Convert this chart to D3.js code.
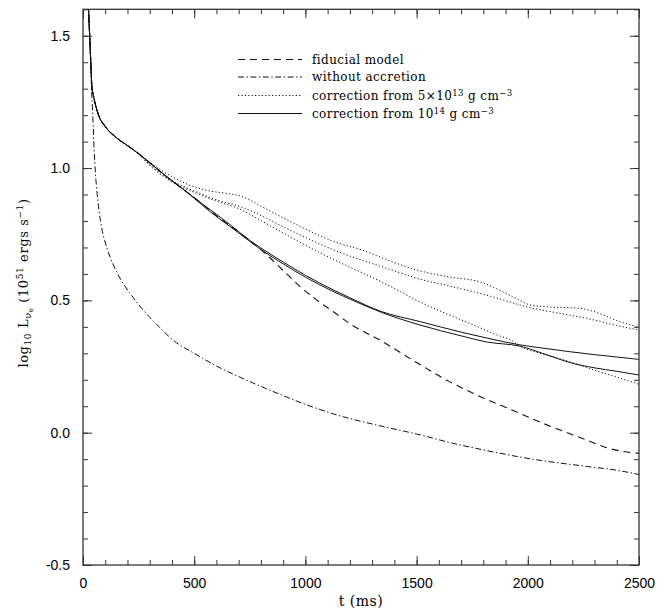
<!DOCTYPE html>
<html>
<head>
<meta charset="utf-8">
<script src="https://cdn.jsdelivr.net/npm/d3@7"></script>
<style>
  html, body { margin: 0; padding: 0; background: #fff; }
  svg { display: block; }
</style>
</head>
<body>
<svg id="chart" width="672" height="611"></svg>
<script>
// Electron-neutrino luminosity vs. time after bounce, log10 L (1e51 erg/s)

const fiducial = [
  [18,1.85],[25,1.6],[30,1.5],[35,1.4],[40,1.31],[50,1.262],[70,1.2],[100,1.157],
  [150,1.115],[200,1.085],[257,1.05],[300,1.02],[380,0.965],[466,0.91],[520,0.875],
  [600,0.82],[700,0.758],[750,0.725],[800,0.692],[901,0.612],[975,0.553],[1050,0.502],
  [1129,0.455],[1200,0.412],[1341,0.347],[1500,0.265],[1650,0.192],[1782,0.138],
  [1945,0.08],[2021,0.052],[2108,0.022],[2272,-0.03],[2351,-0.056],[2430,-0.071],[2500,-0.078]
];

const noAccretion = [
  [18,1.85],[25,1.6],[30,1.5],[35,1.4],[38,1.31],[44,1.2],[50,1.07],[56,0.98],
  [64,0.9],[72,0.84],[85,0.77],[98,0.725],[121,0.665],[150,0.61],[211,0.527],
  [264,0.47],[330,0.41],[420,0.34],[500,0.3],[600,0.252],[700,0.212],[800,0.175],
  [900,0.14],[1000,0.107],[1130,0.07],[1340,0.025],[1500,-0.005],[1663,-0.04],
  [1800,-0.065],[2021,-0.1],[2270,-0.128],[2400,-0.142],[2500,-0.158]
];

// corrections switched on from 5e13 g/cm^3 (three runs)
const corr5e13a = [
  [18,1.85],[25,1.6],[30,1.5],[35,1.4],[40,1.31],[50,1.262],[70,1.2],[100,1.157],
  [150,1.115],[200,1.085],[250,1.053],[300,1.022],[395,0.97],[481,0.935],[560,0.915],
  [640,0.905],[705,0.895],[760,0.875],[803,0.855],[900,0.812],[975,0.78],[1129,0.722],
  [1273,0.685],[1341,0.662],[1500,0.615],[1650,0.588],[1785,0.57],[1850,0.548],
  [1964,0.5],[2009,0.483],[2100,0.475],[2234,0.47],[2280,0.462],[2414,0.42],[2500,0.398]
];
const corr5e13b = [
  [18,1.85],[25,1.6],[30,1.5],[35,1.4],[40,1.31],[50,1.262],[70,1.2],[100,1.157],
  [150,1.115],[200,1.085],[250,1.053],[300,1.013],[395,0.955],[525,0.905],[600,0.88],
  [705,0.855],[803,0.82],[900,0.778],[975,0.748],[1129,0.69],[1341,0.628],[1423,0.605],
  [1515,0.58],[1619,0.56],[1814,0.52],[2009,0.473],[2150,0.45],[2265,0.432],[2400,0.405],[2500,0.388]
];
const corr5e13c = [
  [18,1.85],[25,1.6],[30,1.5],[35,1.4],[40,1.31],[50,1.262],[70,1.2],[100,1.157],
  [150,1.115],[200,1.085],[250,1.053],[300,1.01],[395,0.95],[525,0.9],[600,0.875],
  [705,0.845],[803,0.8],[900,0.755],[975,0.72],[1126,0.655],[1341,0.57],[1423,0.535],
  [1500,0.5],[1619,0.455],[1740,0.413],[1872,0.366],[1920,0.352],[1964,0.328],
  [2100,0.29],[2189,0.268],[2300,0.236],[2400,0.21],[2500,0.183]
];

// corrections switched on from 1e14 g/cm^3 (two runs)
const corr1e14a = [
  [18,1.85],[25,1.6],[30,1.5],[35,1.4],[40,1.31],[50,1.262],[70,1.2],[100,1.157],
  [150,1.115],[200,1.085],[257,1.05],[300,1.02],[380,0.965],[466,0.91],[560,0.85],
  [640,0.8],[700,0.76],[750,0.727],[800,0.698],[900,0.645],[1000,0.595],[1129,0.538],
  [1200,0.51],[1341,0.458],[1515,0.42],[1700,0.38],[1814,0.358],[1964,0.332],
  [2100,0.316],[2189,0.306],[2300,0.295],[2400,0.286],[2500,0.277]
];
const corr1e14b = [
  [18,1.85],[25,1.6],[30,1.5],[35,1.4],[40,1.31],[50,1.262],[70,1.2],[100,1.157],
  [150,1.115],[200,1.085],[257,1.05],[300,1.02],[380,0.965],[466,0.91],[560,0.843],
  [640,0.792],[700,0.755],[750,0.723],[800,0.692],[900,0.638],[1000,0.588],[1129,0.532],
  [1200,0.505],[1341,0.455],[1515,0.407],[1700,0.366],[1814,0.343],[1964,0.327],
  [2100,0.29],[2189,0.265],[2300,0.245],[2400,0.232],[2500,0.218]
];

const xMajorTicks = [0, 500, 1000, 1500, 2000, 2500];
const xMinorTicks = d3.range(0, 2501, 100);
const yMajorTicks = [-0.5, 0, 0.5, 1.0, 1.5];
const yTickLabels = ["-0.5", "0.0", "0.5", "1.0", "1.5"];
const yMinorTicks = d3.range(-5, 17).map(d => d / 10);

const legendItems = [
  { key: "dashed",  parts: [["fiducial model"]] },
  { key: "dashdot", parts: [["without accretion"]] },
  { key: "dotted",  parts: [["correction from 5×10"], ["13", "sup"], [" g cm"], ["−3", "sup"]] },
  { key: "solid",   parts: [["correction from 10"], ["14", "sup"], [" g cm"], ["−3", "sup"]] }
];

const styles = {
  dashed:  { dash: "7,5",           width: 1.1 },
  dashdot: { dash: "6,2.5,1.4,2.5", width: 1.0 },
  dotted:  { dash: "1.2,2.2",       width: 1.0 },
  solid:   { dash: null,            width: 1.0 }
};

const series = [
  { data: fiducial,    key: "dashed" },
  { data: noAccretion, key: "dashdot" },
  { data: corr5e13a,   key: "dotted" },
  { data: corr5e13b,   key: "dotted" },
  { data: corr5e13c,   key: "dotted" },
  { data: corr1e14a,   key: "solid" },
  { data: corr1e14b,   key: "solid" }
];

const svg = d3.select("#chart");
const plotLeft = 83, plotRight = 639, plotTop = 9.3, plotBottom = 565;

const x = d3.scaleLinear().domain([0, 2500]).range([plotLeft, plotRight]);
const y = d3.scaleLinear().domain([-0.5, 1.6]).range([plotBottom, plotTop]);

svg.append("defs").append("clipPath").attr("id", "plotClip")
  .append("rect").attr("x", plotLeft).attr("y", plotTop)
  .attr("width", plotRight - plotLeft).attr("height", plotBottom - plotTop);

// curves
const line = d3.line().x(d => x(d[0])).y(d => y(d[1])).curve(d3.curveMonotoneX);
const curves = svg.append("g").attr("clip-path", "url(#plotClip)");
series.forEach(s => {
  const st = styles[s.key];
  curves.append("path")
    .attr("d", line(s.data))
    .attr("fill", "none")
    .attr("stroke", "#111")
    .attr("stroke-width", st.width)
    .attr("stroke-dasharray", st.dash)
    .attr("stroke-linejoin", "round");
});

// axes with inward ticks on all four sides
function styleAxis(g) {
  g.select(".domain").remove();
  g.selectAll(".tick line").attr("stroke", "#333").attr("stroke-width", 1);
}
const tickFont = "'Liberation Sans', Arial, Helvetica, sans-serif";

svg.append("g").attr("transform", `translate(0,${plotBottom})`)
  .call(d3.axisBottom(x).tickValues(xMinorTicks).tickSize(-5).tickFormat(""))
  .call(styleAxis);
svg.append("g").attr("transform", `translate(0,${plotBottom})`)
  .call(d3.axisBottom(x).tickValues(xMajorTicks).tickSize(-9).tickPadding(13).tickFormat(d3.format("d")))
  .call(styleAxis)
  .call(g => g.selectAll("text").attr("fill", "#000").style("font", `14px ${tickFont}`));

svg.append("g").attr("transform", `translate(0,${plotTop})`)
  .call(d3.axisTop(x).tickValues(xMinorTicks).tickSize(-5).tickFormat(""))
  .call(styleAxis);
svg.append("g").attr("transform", `translate(0,${plotTop})`)
  .call(d3.axisTop(x).tickValues(xMajorTicks).tickSize(-9).tickFormat(""))
  .call(styleAxis);

svg.append("g").attr("transform", `translate(${plotLeft},0)`)
  .call(d3.axisLeft(y).tickValues(yMinorTicks).tickSize(-5).tickFormat(""))
  .call(styleAxis);
svg.append("g").attr("transform", `translate(${plotLeft},0)`)
  .call(d3.axisLeft(y).tickValues(yMajorTicks).tickSize(-9).tickPadding(13)
    .tickFormat((d, i) => yTickLabels[i]))
  .call(styleAxis)
  .call(g => g.selectAll("text").attr("fill", "#000").style("font", `14px ${tickFont}`));

svg.append("g").attr("transform", `translate(${plotRight},0)`)
  .call(d3.axisRight(y).tickValues(yMinorTicks).tickSize(-5).tickFormat(""))
  .call(styleAxis);
svg.append("g").attr("transform", `translate(${plotRight},0)`)
  .call(d3.axisRight(y).tickValues(yMajorTicks).tickSize(-9).tickFormat(""))
  .call(styleAxis);

// frame
svg.append("rect")
  .attr("x", plotLeft).attr("y", plotTop)
  .attr("width", plotRight - plotLeft).attr("height", plotBottom - plotTop)
  .attr("fill", "none").attr("stroke", "#333").attr("stroke-width", 1.3);

const serif = "'DejaVu Serif', 'Liberation Serif', serif";

// x title
svg.append("text")
  .attr("x", (plotLeft + plotRight) / 2).attr("y", 606)
  .attr("text-anchor", "middle")
  .style("font", `14px ${serif}`).style("letter-spacing", "0.5px")
  .text("t (ms)");

// y title
const yt = svg.append("text")
  .attr("transform", "translate(28,283) rotate(-90)")
  .attr("text-anchor", "middle")
  .style("font", `13px ${serif}`).style("letter-spacing", "0.6px");
yt.append("tspan").text("log");
yt.append("tspan").attr("dy", 3).style("font-size", "9px").text("10");
yt.append("tspan").attr("dy", -3).text(" L");
yt.append("tspan").attr("dy", 3).style("font-size", "10px").text("ν");
yt.append("tspan").attr("dy", 2).style("font-size", "7px").text("e");
yt.append("tspan").attr("dy", -5).text(" (10");
yt.append("tspan").attr("dy", -5).style("font-size", "9px").text("51");
yt.append("tspan").attr("dy", 5).text(" ergs s");
yt.append("tspan").attr("dy", -5).style("font-size", "9px").text("−1");
yt.append("tspan").attr("dy", 5).text(")");

// legend
const legend = svg.append("g");
const rowY = [59.5, 77, 95.5, 113.5];
legendItems.forEach((item, i) => {
  const st = styles[item.key];
  legend.append("line")
    .attr("x1", 238).attr("x2", 302)
    .attr("y1", rowY[i]).attr("y2", rowY[i])
    .attr("stroke", "#111").attr("stroke-width", st.width)
    .attr("stroke-dasharray", st.dash);
  const t = legend.append("text")
    .attr("x", 312).attr("y", rowY[i] + 4)
    .style("font", `12px ${serif}`).style("letter-spacing", "0.4px");
  let raised = false;
  item.parts.forEach(p => {
    if (p[1] === "sup") {
      t.append("tspan").attr("dy", -4).style("font-size", "8.5px").text(p[0]);
      raised = true;
    } else {
      t.append("tspan").attr("dy", raised ? 4 : 0).text(p[0]);
      raised = false;
    }
  });
});
</script>
</body>
</html>
